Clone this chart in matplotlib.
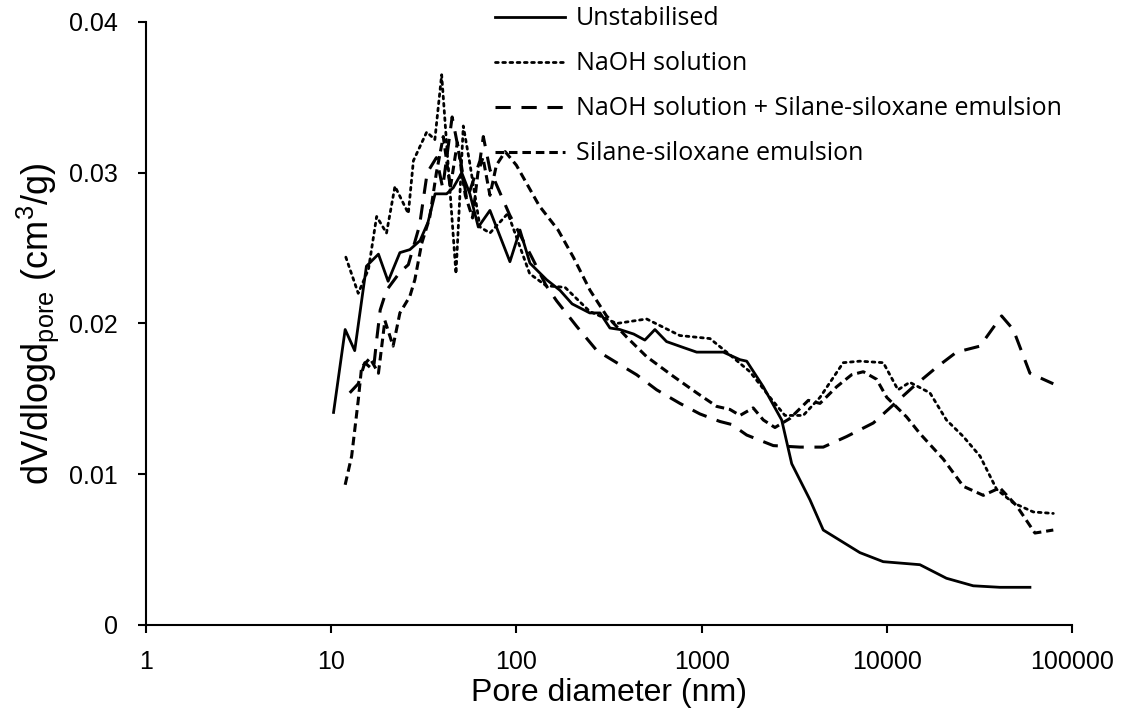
import matplotlib
matplotlib.use("Agg")
import matplotlib.pyplot as plt
from matplotlib.ticker import FixedLocator, FixedFormatter, NullLocator

# Pore size distributions (mercury intrusion), x = pore diameter in nm
unstab_x = [10.3, 11.9, 13.4, 15.5, 18.0, 20.3, 23.5, 26.6, 30.2, 33.3, 36.4, 42.0,
            45.6, 50.7, 56.1, 62.3, 72.0, 92.3, 104.6, 118.4, 145.7, 172, 200, 249,
            283, 320, 362, 430, 494, 560, 647, 800, 941, 1310, 1612, 1753, 2155,
            2708, 3067, 3850, 4540, 7160, 9570, 15100, 21000, 29300, 40800, 59300]
unstab_y = [0.0141, 0.0196, 0.0182, 0.0238, 0.0246, 0.0228, 0.0247, 0.0249, 0.0255,
            0.0267, 0.0286, 0.0286, 0.0290, 0.0300, 0.0286, 0.0264, 0.0275, 0.0241,
            0.0262, 0.0240, 0.0229, 0.0222, 0.0213, 0.0207, 0.0207, 0.0197, 0.0196,
            0.0193, 0.0189, 0.0196, 0.0188, 0.0184, 0.0181, 0.0181, 0.0176, 0.0175,
            0.0158, 0.0136, 0.0107, 0.0083, 0.0063, 0.0048, 0.0042, 0.0040, 0.0031,
            0.0026, 0.0025, 0.0025]

naoh_x = [12.0, 14.0, 15.9, 17.6, 19.9, 22.1, 26.1, 27.8, 32.8, 36.3, 39.5, 47.2,
          51.7, 56.1, 63.6, 72.0, 90, 118, 145, 183, 249, 348, 505, 764, 1110, 1366,
          1825, 2340, 2820, 3540, 4360, 5820, 7160, 9580, 11500, 13300, 17100,
          21000, 25900, 31900, 39200, 48200, 61800, 79300]
naoh_y = [0.0244, 0.0220, 0.0236, 0.0271, 0.0260, 0.0291, 0.0273, 0.0308, 0.0327,
          0.0322, 0.0365, 0.0233, 0.0331, 0.0306, 0.0264, 0.0260, 0.0273, 0.0233,
          0.0225, 0.0224, 0.0208, 0.0200, 0.0203, 0.0192, 0.0190, 0.0181, 0.0168,
          0.0151, 0.0139, 0.0139, 0.0151, 0.0174, 0.0175, 0.0174, 0.0156, 0.0161,
          0.0154, 0.0136, 0.0125, 0.0112, 0.0090, 0.0081, 0.0075, 0.0074]

naoh_sil_x = [12.6, 14.0, 15.2, 16.9, 17.6, 18.4, 19.9, 23.5, 26.1, 30.0, 33.0, 37.0,
              40.0, 45.0, 50.0, 54.0, 63.6, 66.3, 72.0, 92, 120, 145, 165, 212, 272,
              348, 446, 572, 764, 980, 1256, 1454, 1753, 2440, 3400, 4540, 6070,
              8460, 11070, 13900, 18600, 23800, 31900, 41700, 48200, 59300, 79300]
naoh_sil_y = [0.0154, 0.0160, 0.0174, 0.0169, 0.0189, 0.0209, 0.0222, 0.0234, 0.0239,
              0.0265, 0.0300, 0.0310, 0.0290, 0.0337, 0.0308, 0.0282, 0.0308, 0.0324,
              0.0302, 0.0272, 0.0245, 0.0225, 0.0215, 0.0198, 0.0182, 0.0174, 0.0166,
              0.0156, 0.0147, 0.0140, 0.0135, 0.0133, 0.0126, 0.0119, 0.0118, 0.0118,
              0.0125, 0.0134, 0.0147, 0.0158, 0.0171, 0.0181, 0.0185, 0.0205, 0.0196,
              0.0167, 0.0160]

sil_x = [11.9, 12.9, 14.0, 14.6, 16.2, 18.0, 19.5, 21.6, 23.5, 26.6, 28.3, 30.8, 34.0,
         37.0, 40.3, 44.0, 48.0, 53.0, 58.0, 62.0, 66.0, 72.0, 78.0, 87.0, 100, 133,
         168, 203, 250, 307, 394, 505, 703, 941, 1207, 1422, 1612, 1900, 2155, 2490,
         3000, 3770, 4360, 5360, 6460, 7470, 8810, 10000, 12800, 15100, 20200,
         25900, 33200, 40800, 50300, 63100, 79300]
sil_y = [0.0093, 0.0112, 0.0149, 0.0171, 0.0177, 0.0167, 0.0202, 0.0185, 0.0207,
         0.0218, 0.0229, 0.0253, 0.0270, 0.0300, 0.0324, 0.0290, 0.0320, 0.0285,
         0.0270, 0.0300, 0.0310, 0.0285, 0.0305, 0.0314, 0.0305, 0.0278, 0.0262,
         0.0244, 0.0222, 0.0205, 0.0191, 0.0178, 0.0165, 0.0154, 0.0145, 0.0143,
         0.0139, 0.0144, 0.0136, 0.0131, 0.0137, 0.0149, 0.0147, 0.0158, 0.0166,
         0.0168, 0.0163, 0.0151, 0.0138, 0.0127, 0.0110, 0.0092, 0.0086, 0.0091,
         0.0079, 0.0061, 0.0063]

series_labels = ["Unstabilised", "NaOH solution",
                 "NaOH solution + Silane-siloxane emulsion", "Silane-siloxane emulsion"]
x_ticks = [1, 10, 100, 1000, 10000, 100000]
x_ticklabels = ["1", "10", "100", "1000", "10000", "100000"]
y_ticks = [0, 0.01, 0.02, 0.03, 0.04]
y_ticklabels = ["0", "0.01", "0.02", "0.03", "0.04"]

fig = plt.figure(figsize=(11.22, 7.16), dpi=100)
ax = fig.add_axes([0.1301, 0.1271, 0.8253, 0.8422])

ax.plot(unstab_x, unstab_y, color="black", lw=2.0, ls="-", label=series_labels[0])
ax.plot(naoh_x, naoh_y, color="black", lw=2.0, ls=(0, (1, 1.6)),
        dash_capstyle="round", label=series_labels[1])
ax.plot(naoh_sil_x, naoh_sil_y, color="black", lw=2.2, ls=(0, (5, 3.5)),
        label=series_labels[2])
ax.plot(sil_x, sil_y, color="black", lw=2.2, ls=(0, (2.8, 1.6)),
        label=series_labels[3])

ax.set_xscale("log")
ax.set_xlim(1, 100000)
ax.set_ylim(0, 0.04)
ax.xaxis.set_major_locator(FixedLocator(x_ticks))
ax.xaxis.set_major_formatter(FixedFormatter(x_ticklabels))
ax.xaxis.set_minor_locator(NullLocator())
ax.yaxis.set_major_locator(FixedLocator(y_ticks))
ax.yaxis.set_major_formatter(FixedFormatter(y_ticklabels))

for side in ("top", "right"):
    ax.spines[side].set_visible(False)
for side in ("left", "bottom"):
    ax.spines[side].set_linewidth(1.5)

tick_font = "Liberation Sans"
ax.tick_params(axis="both", direction="out", length=6, width=1.5, labelsize=18)
ax.tick_params(axis="y", pad=14)
ax.tick_params(axis="x", pad=12)
for lab in ax.get_xticklabels() + ax.get_yticklabels():
    lab.set_fontfamily(tick_font)

ax.set_xlabel("Pore diameter (nm)", fontsize=23, fontfamily=tick_font, labelpad=3)
ax.set_ylabel(r"dV/dlogd$_{\mathregular{pore}}$ (cm$^{\mathregular{3}}$/g)",
              fontsize=26, fontfamily=tick_font, labelpad=6)

leg = ax.legend(loc="upper left", bbox_to_anchor=(495 / 1122, 0.991),
                bbox_transform=fig.transFigure, frameon=False,
                prop={"family": "Open Sans", "size": 18},
                handlelength=2.8, handletextpad=0.45, labelspacing=0.8,
                borderaxespad=0.0, borderpad=0.0)

fig.savefig("out.png", dpi=100)
